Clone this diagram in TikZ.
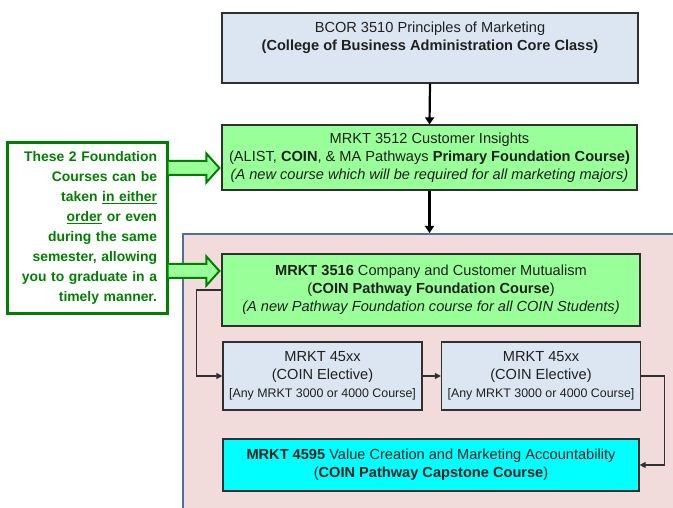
\documentclass[tikz,border=0pt]{standalone}
\usepackage{fontspec}
\setmainfont{Liberation Sans}
\usetikzlibrary{arrows.meta,calc}

\definecolor{corefill}{HTML}{DCE6F2}
\definecolor{foundfill}{HTML}{99FF99}
\definecolor{capfill}{HTML}{00FFFF}
\definecolor{pathfill}{HTML}{F2DCDB}
\definecolor{pathline}{HTML}{4F6FA0}
\definecolor{notegreen}{HTML}{008000}
\definecolor{boxline}{HTML}{303030}
\definecolor{inktext}{HTML}{202020}

\newcommand\reqfont{\fontsize{12.4}{14}\selectfont}
\newcommand\notefont{\bfseries\fontsize{13.9}{20}\selectfont\hyphenpenalty=10000\relax}

\tikzset{
  course/.style={draw=boxline, line width=1.2pt, align=center, inner sep=0pt,
    text=inktext, font=\fontsize{14.6}{18}\selectfont},
  elective/.style={course, fill=corefill, minimum width=199pt, minimum height=68pt},
  mainflow/.style={line width=2.2pt, -{Triangle[width=9pt,length=7pt]}},
  elbow/.style={line width=1.2pt, draw=boxline, -{Triangle[width=6pt,length=6pt]}},
  blockarrow/.style={draw=notegreen, line width=2pt, fill=foundfill, line join=miter}
}

\begin{document}
\begin{tikzpicture}[x=1pt,y=-1pt]
\useasboundingbox (0,0) rectangle (673,508);
\clip (0,0) rectangle (673,508);

% pathway region
\node[draw=pathline, line width=2pt, fill=pathfill, anchor=north west,
      minimum width=520pt, minimum height=300pt, inner sep=0pt] (pathway) at (182,233) {};

% courses
\node[course, fill=corefill, minimum width=416pt, minimum height=70pt] (bcor) at (430,48)
  {BCOR 3510 Principles of Marketing\\\textbf{(College of Business Administration Core Class)}\\\strut};

\node[course, fill=foundfill, minimum width=415pt, minimum height=65pt] (insights) at (429.5,157.5)
  {MRKT 3512 Customer Insights\\
   (ALIST, \textbf{COIN}, \& MA Pathways \textbf{Primary Foundation Course)}\\
   \textit{(A new course which will be required for all marketing majors)}};

\node[course, fill=foundfill, minimum width=418pt, minimum height=72pt] (mutual) at (431,290)
  {\textbf{MRKT 3516} Company and Customer Mutualism\\
   (\textbf{COIN Pathway Foundation Course})\\
   \textit{(A new Pathway Foundation course for all COIN Students)}};

\node[elective] (elecA) at (322.5,376)
  {MRKT 45xx\\(COIN Elective)\\{\reqfont [Any MRKT 3000 or 4000 Course]}};
\node[elective] (elecB) at (541,376)
  {MRKT 45xx\\(COIN Elective)\\{\reqfont [Any MRKT 3000 or 4000 Course]}};

\node[course, fill=capfill, minimum width=416pt, minimum height=52pt] (capstone) at (431,465)
  {\textbf{MRKT 4595} Value Creation and Marketing Accountability\\
   (\textbf{COIN Pathway Capstone Course})};

% side note
\node[draw=notegreen, line width=3pt, fill=white, minimum width=160pt, minimum height=170pt,
      align=right, text=notegreen, inner sep=0pt, text width=140pt,
      font=\notefont] (note) at (87,228)
  {These 2 Foundation\\
   Courses can be\\
   taken \underline{in either}\\
   \underline{order} or even\\
   during the same\\
   semester, allowing\\
   you to graduate in a\\
   timely manner.};

% main sequence
\draw[mainflow] (bcor.south) -- (insights.north);
\draw[mainflow] (insights.south) -- (insights.south |- pathway.north);

% elective chain
\draw[elbow] (mutual.west) -- ++(-25,0) |- (elecA.west);
\draw[elbow] (elecA.east) -- (elecB.west);
\draw[elbow] (elecB.east) -- ++(23,0) |- (capstone.east);

% block arrows from the note to both foundation courses
\path (note.east |- 0,168) coordinate (upS) (insights.west |- 0,168) coordinate (upT);
\path (note.east |- 0,271) coordinate (loS) (mutual.west |- 0,271) coordinate (loT);
\foreach \s/\t in {upS/upT, loS/loT}{
  \draw[blockarrow] ($(\s)+(0,-7)$) -- ($(\t)+(-15,-7)$) -- ($(\t)+(-15,-14.5)$)
    -- ($(\t)+(-2,0)$) -- ($(\t)+(-15,14.5)$) -- ($(\t)+(-15,7)$) -- ($(\s)+(0,7)$);
}
\end{tikzpicture}
\end{document}
